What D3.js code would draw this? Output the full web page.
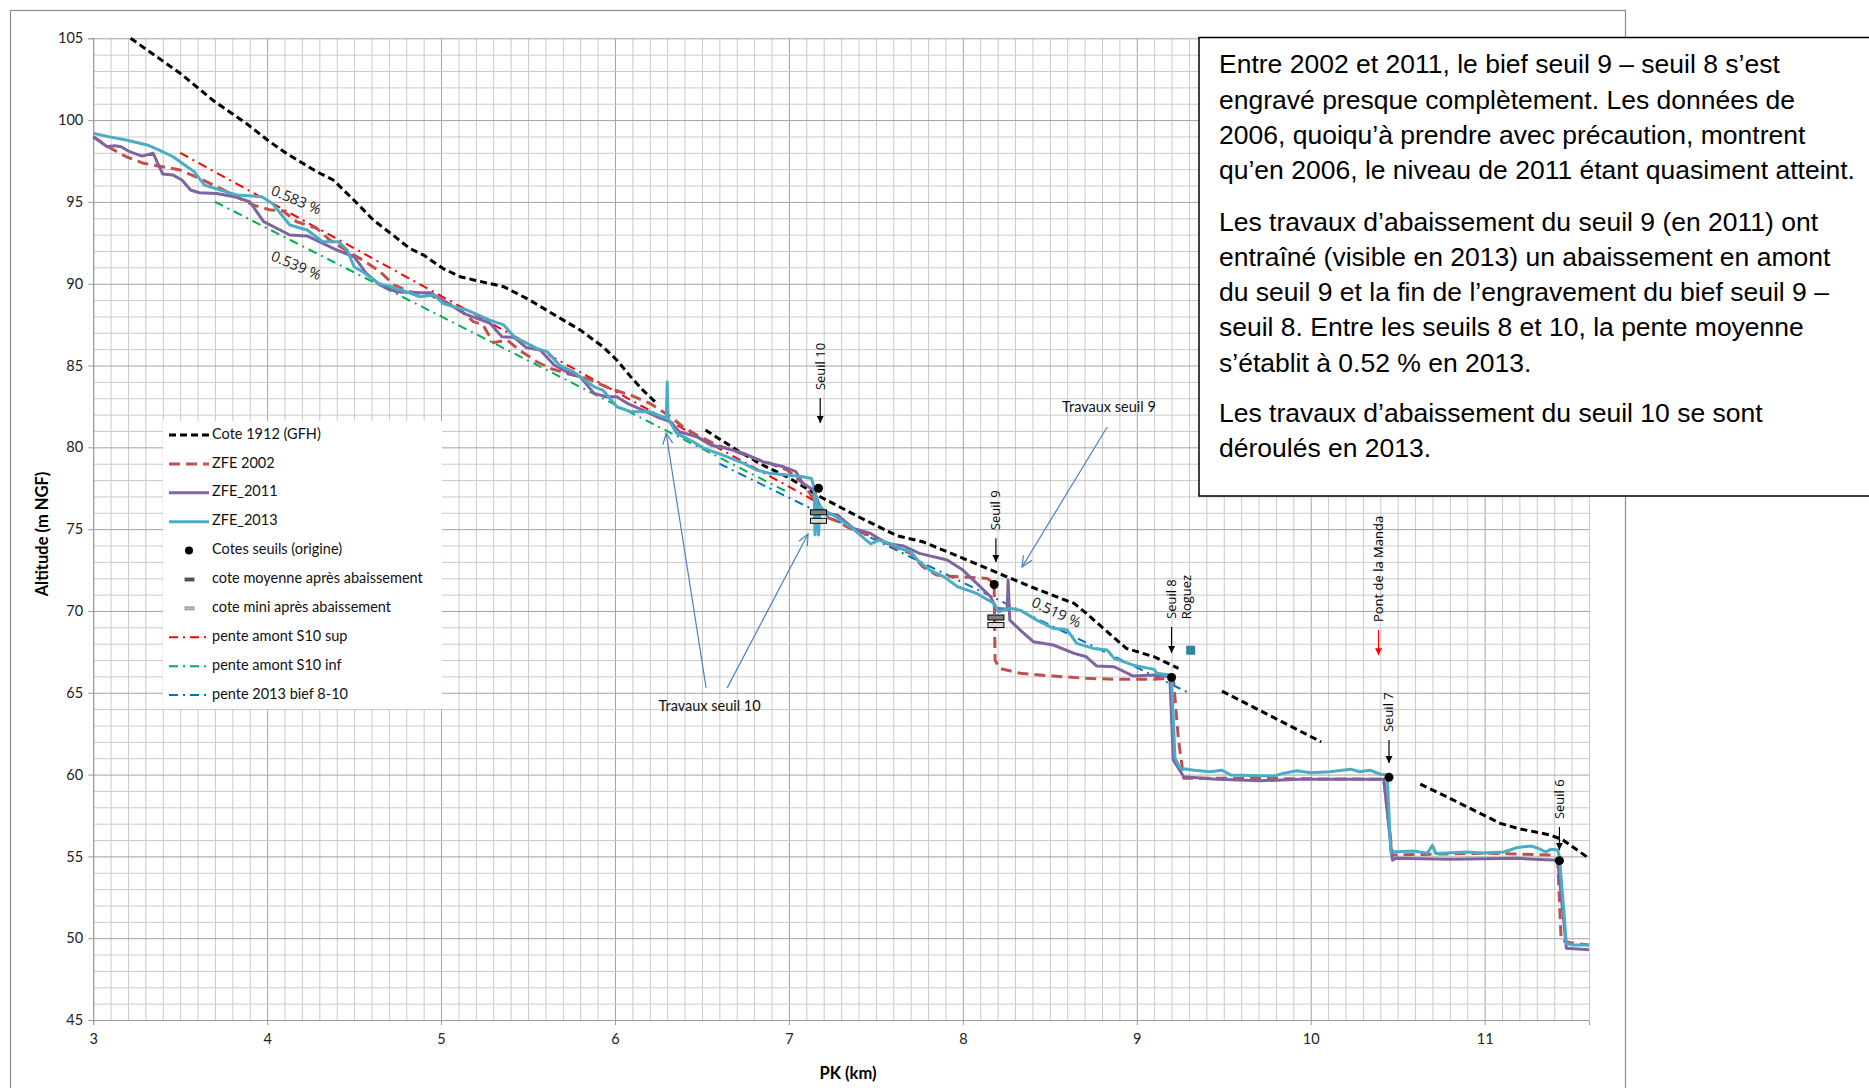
<!DOCTYPE html>
<html>
<head>
<meta charset="utf-8">
<script src="https://cdn.jsdelivr.net/npm/d3@7"></script>
<style>
  body { margin: 0; background: #fff; }
  svg { display: block; }
</style>
</head>
<body>
<svg id="chart" width="1869" height="1088"></svg>
<script>
// ---- Long profile data: PK (km) vs altitude (m NGF) ----
const pkTicks = [3, 4, 5, 6, 7, 8, 9, 10, 11];
const altTicks = [45, 50, 55, 60, 65, 70, 75, 80, 85, 90, 95, 100, 105];

// Cote 1912 (GFH), null marks a gap in the survey
const cote1912 = [
  [3.215,105],[3.5,102.86],[3.69,101.2],[3.88,99.8],[4.0,98.8],[4.11,97.97],[4.285,96.85],[4.38,96.34],
  [4.5,95.1],[4.61,93.9],[4.71,93.08],[4.82,92.16],[4.9,91.75],[5.01,90.94],[5.11,90.43],[5.2,90.2],
  [5.36,89.82],[5.51,89.0],[5.67,87.98],[5.8,87.17],[5.93,86.15],[6.01,85.34],[6.09,84.32],[6.16,83.5],
  [6.23,82.79],null,
  [6.52,81.06],[6.7,79.84],[6.83,79.02],[6.99,78.2],[7.18,76.98],[7.4,75.76],[7.62,74.6],[7.77,74.23],
  [7.98,73.31],[8.25,72.1],[8.44,71.27],[8.64,70.46],[8.71,69.85],[8.94,67.71],[9.1,67.2],[9.24,66.49],null,
  [9.49,65.1],[10.06,62.0],null,
  [10.63,59.42],[10.8,58.55],[10.955,57.73],[11.09,57.02],[11.19,56.71],[11.38,56.3],[11.45,56.0],[11.6,54.88]
];

const zfe2002 = [
  [3.0,98.99],[3.10,98.28],[3.19,97.76],[3.29,97.36],[3.40,97.15],[3.50,96.95],[3.61,96.44],[3.75,95.73],
  [3.825,95.32],[3.92,94.81],[4.02,94.5],[4.09,94.46],[4.17,93.79],[4.285,93.39],[4.36,92.67],[4.48,91.86],
  [4.55,91.45],[4.65,90.73],[4.73,89.92],[4.82,89.51],[4.94,89.31],[5.01,88.9],[5.09,88.6],[5.185,87.68],
  [5.24,87.5],[5.30,86.4],[5.38,86.56],[5.45,85.95],[5.55,85.23],[5.63,84.82],[5.72,84.52],[5.84,84.21],
  [5.97,83.6],[6.09,83.19],[6.20,82.69],[6.32,81.87],[6.39,81.26],[6.47,80.75],[6.585,80.14],[6.70,79.73],
  [6.80,79.33],[6.89,79.02],[6.99,78.61],[7.08,77.8],[7.16,76.6],[7.2,75.8],[7.26,75.56],[7.37,74.95],
  [7.49,74.54],[7.60,73.93],[7.70,73.52],[7.77,72.7],[7.85,72.19],[7.985,72.09],[8.14,71.99],[8.18,71.69],
  [8.185,67.0],[8.21,66.49],[8.33,66.19],[8.52,66.02],[8.71,65.88],[8.90,65.82],[9.10,65.82],[9.17,65.88],
  [9.21,65.88],[9.24,62.11],[9.27,59.77],[9.55,59.77],[10.0,59.74],[10.42,59.71],[10.47,55.08],[11.0,55.2],
  [11.38,55.08],[11.42,54.77],[11.44,49.89],[11.49,49.72],[11.6,49.58]
];

const zfe2011 = [
  [3.0,98.99],[3.08,98.37],[3.125,98.43],[3.16,98.37],[3.21,98.07],[3.28,97.8],[3.345,97.97],[3.40,96.7],
  [3.46,96.64],[3.51,96.34],[3.56,95.73],[3.61,95.56],[3.71,95.52],[3.81,95.32],[3.90,95.01],[3.98,93.79],
  [4.055,93.39],[4.13,92.98],[4.23,92.92],[4.32,92.47],[4.40,92.06],[4.50,91.65],[4.57,90.63],[4.65,89.92],
  [4.745,89.51],[4.84,89.45],[4.94,89.45],[5.01,89.0],[5.13,88.19],[5.205,87.88],[5.28,87.6],[5.35,86.76],
  [5.42,86.72],[5.49,86.1],[5.57,85.95],[5.65,85.03],[5.72,84.62],[5.80,84.31],[5.88,83.3],[5.95,83.09],
  [6.01,83.09],[6.07,82.69],[6.16,82.28],[6.24,81.87],[6.32,81.56],[6.37,80.95],[6.47,80.65],[6.55,80.14],
  [6.64,79.94],[6.74,79.63],[6.85,79.12],[6.97,78.81],[7.04,78.51],[7.08,77.8],[7.14,77.39],[7.18,76.37],
  [7.20,75.97],[7.28,75.86],[7.37,75.05],[7.47,74.74],[7.56,74.13],[7.66,73.97],[7.75,73.52],[7.91,73.11],
  [8.00,72.5],[8.08,71.69],[8.16,70.87],[8.19,70.16],[8.255,70.1],[8.26,71.89],[8.27,69.44],[8.33,68.83],
  [8.405,68.12],[8.52,67.92],[8.64,67.41],[8.71,67.2],[8.77,66.63],[8.87,66.59],[8.98,66.02],[9.10,66.08],
  [9.19,65.98],[9.21,60.89],[9.27,59.87],[9.46,59.71],[9.71,59.62],[9.94,59.71],[10.42,59.71],[10.47,54.77],
  [10.49,54.88],[10.80,54.82],[11.19,54.88],[11.42,54.77],[11.47,49.38],[11.6,49.3]
];

const zfe2013 = [
  [3.0,99.2],[3.087,98.99],[3.19,98.78],[3.31,98.48],[3.38,98.17],[3.46,97.76],[3.54,97.15],[3.58,96.85],
  [3.64,96.03],[3.73,95.73],[3.825,95.42],[3.97,95.32],[4.03,94.91],[4.13,93.59],[4.23,93.28],[4.32,92.57],
  [4.41,92.57],[4.46,92.06],[4.5,91.04],[4.55,90.73],[4.64,90.02],[4.71,89.82],[4.8,89.51],[4.88,89.2],
  [4.96,89.31],[5.01,88.8],[5.07,88.6],[5.15,88.39],[5.28,87.78],[5.36,87.48],[5.42,86.76],[5.55,86.05],
  [5.61,85.85],[5.68,85.03],[5.76,84.62],[5.88,83.7],[5.93,83.5],[6.01,82.48],[6.09,82.18],[6.2,82.18],
  [6.295,81.77],[6.30,84.0],[6.305,81.77],[6.355,80.85],[6.45,80.34],[6.51,79.94],[6.62,79.53],[6.74,79.02],
  [6.815,78.61],[6.89,78.41],[6.99,78.31],[7.08,78.2],[7.13,78.1],[7.145,77.5],[7.15,74.64],[7.16,77.0],
  [7.17,74.64],[7.18,76.4],[7.20,76.17],[7.27,75.76],[7.37,75.0],[7.47,74.1],[7.52,74.33],[7.58,74.13],
  [7.64,73.82],[7.70,73.62],[7.74,73.11],[7.81,72.5],[7.89,72.1],[7.97,71.48],[8.08,71.07],[8.18,70.46],
  [8.205,69.95],[8.27,70.16],[8.33,70.05],[8.425,69.44],[8.52,68.94],[8.60,68.83],[8.655,68.02],[8.75,67.71],
  [8.83,67.61],[8.87,67.1],[8.98,66.69],[9.10,66.43],[9.115,66.19],[9.19,66.08],[9.20,65.78],[9.22,61.0],
  [9.25,60.38],[9.33,60.27],[9.42,60.17],[9.49,60.27],[9.54,59.97],[9.79,59.91],[9.84,60.07],[9.92,60.23],
  [10.0,60.11],[10.11,60.17],[10.23,60.33],[10.28,60.17],[10.34,60.27],[10.40,60.02],[10.44,59.97],[10.46,55.27],
  [10.59,55.33],[10.67,55.2],[10.70,55.67],[10.72,55.17],[10.90,55.27],[10.99,55.2],[11.11,55.27],[11.19,55.55],
  [11.27,55.63],[11.31,55.48],[11.35,55.27],[11.38,55.43],[11.42,55.39],[11.43,54.98],[11.47,49.68],[11.51,49.58],
  [11.6,49.58]
];

// Slope lines (two end points each)
const penteS10sup = [[3.5, 98.0], [7.15, 76.72]];
const penteS10inf = [[3.7, 95.01], [7.0, 77.22]];
const pente2013bief = [[6.6, 79.0], [9.3, 64.99]];

// Weirs: original crest level, mean and minimum level after lowering
const cotesSeuils = [[7.17, 77.5], [8.18, 71.62], [9.20, 65.94], [10.45, 59.83], [11.43, 54.74]];
const coteMoyenne = [[7.17, 76.03], [8.19, 69.6]];
const coteMini = [[7.17, 75.51], [8.19, 69.14]];
const roguez = [[9.31, 67.6]];

// Vertical labels with downward arrows: [text, pk, arrow top alt, arrow tip alt, colour]
const weirLabels = [
  ["Seuil 10", 7.18, 83.01, 81.49, "#000"],
  ["Seuil 9", 8.19, 74.45, 72.99, "#000"],
  ["Seuil 8", 9.20, 69.02, 67.43, "#000"],
  ["Pont de la Manda", 10.39, 68.83, 67.30, "#ff0000"],
  ["Seuil 7", 10.45, 62.11, 60.70, "#000"],
  ["Seuil 6", 11.43, 56.79, 55.39, "#000"]
];
const slopeLabels = [["0.583 %", 4.165, 95.05, 23], ["0.539 %", 4.165, 91.05, 23], ["0.519 %", 8.535, 69.85, 25]];

const noteLines = [
  ["Entre 2002 et 2011, le bief seuil 9 – seuil 8 s’est",
   "engravé presque complètement. Les données de",
   "2006, quoiqu’à prendre avec précaution, montrent",
   "qu’en 2006, le niveau de 2011 étant quasiment atteint."],
  ["Les travaux d’abaissement du seuil 9 (en 2011) ont",
   "entraîné (visible en 2013) un abaissement en amont",
   "du seuil 9 et la fin de l’engravement du bief seuil 9 –",
   "seuil 8. Entre les seuils 8 et 10, la pente moyenne",
   "s’établit à 0.52 % en 2013."],
  ["Les travaux d’abaissement du seuil 10 se sont",
   "déroulés en 2013."]
];

// ---- Layout ----
const svg = d3.select("#chart");
const plot = { left: 93.2, right: 1589, top: 38.3, bottom: 1020 };
const x = d3.scaleLinear().domain([3, 11.6]).range([plot.left, plot.right]);
const y = d3.scaleLinear().domain([45, 105]).range([plot.bottom, plot.top]);
const fontUI = "Lato, 'Open Sans', sans-serif";
const fontLbl = "'Open Sans', 'DejaVu Sans', sans-serif";

// Outer chart frame
svg.append("rect").attr("x", 10.5).attr("y", 10.5).attr("width", 1615).attr("height", 1100)
  .attr("fill", "#fff").attr("stroke", "#8c8c8c").attr("stroke-width", 1.2);

// Grid: minor every 0.1 km / 1 m, major every km / 5 m
const minorX = d3.range(30, 117).map(d => d / 10);
const minorY = d3.range(45, 106);
const grid = svg.append("g");
grid.append("g").attr("transform", `translate(0,${plot.bottom})`)
  .call(d3.axisBottom(x).tickValues(minorX).tickSize(-(plot.bottom - plot.top)).tickFormat(""))
  .call(g => g.select(".domain").remove())
  .call(g => g.selectAll("line").attr("stroke", d => Math.abs(d - Math.round(d)) < 1e-6 ? "#a3a3a3" : "#cacaca"));
grid.append("g").attr("transform", `translate(${plot.left},0)`)
  .call(d3.axisLeft(y).tickValues(minorY).tickSize(-(plot.right - plot.left)).tickFormat(""))
  .call(g => g.select(".domain").remove())
  .call(g => g.selectAll("line").attr("stroke", d => d % 5 === 0 ? "#a3a3a3" : "#cacaca"));

// Axes
const xAxis = svg.append("g").attr("transform", `translate(0,${plot.bottom})`)
  .call(d3.axisBottom(x).tickValues(pkTicks).tickSize(5).tickPadding(9).tickFormat(d3.format("d")));
const yAxis = svg.append("g").attr("transform", `translate(${plot.left},0)`)
  .call(d3.axisLeft(y).tickValues(altTicks).tickSize(5).tickPadding(5).tickFormat(d3.format("d")));
[xAxis, yAxis].forEach(a => {
  a.select(".domain").attr("stroke", "#9a9a9a");
  a.selectAll(".tick line").attr("stroke", "#9a9a9a");
  a.selectAll("text").attr("font-family", fontUI).attr("font-size", 14.5).attr("fill", "#222");
});

svg.append("text").attr("x", 848).attr("y", 1079).attr("text-anchor", "middle")
  .attr("font-family", fontUI).attr("font-weight", "bold").attr("font-size", 16.5).text("PK (km)");
svg.append("text").attr("transform", "translate(48,534) rotate(-90)").attr("text-anchor", "middle")
  .attr("font-family", fontUI).attr("font-weight", "bold").attr("font-size", 16.5).text("Altitude (m NGF)");

// Legend box (drawn before the series so the lines cross nothing inside it)
const legend = svg.append("g");
legend.append("rect").attr("x", 163).attr("y", 421).attr("width", 279).attr("height", 288).attr("fill", "#fff");

// ---- Series ----
const line = d3.line().defined(d => d !== null).x(d => x(d[0])).y(d => y(d[1]));
const series = svg.append("g");

const styles = {
  black: { stroke: "#000", width: 3, dash: "7,4" },
  z2002: { stroke: "#c0504d", width: 3, dash: "11,6" },
  z2011: { stroke: "#8064a2", width: 3, dash: null },
  z2013: { stroke: "#4bacc6", width: 3, dash: null },
  sup: { stroke: "#ff0000", width: 2, dash: "9,5,2,5" },
  inf: { stroke: "#00b050", width: 2, dash: "9,5,2,5" },
  bief: { stroke: "#0070c0", width: 2, dash: "9,5,2,5" }
};
function drawLine(data, s) {
  series.append("path").datum(data).attr("d", line)
    .attr("fill", "none").attr("stroke", s.stroke).attr("stroke-width", s.width)
    .attr("stroke-dasharray", s.dash).attr("stroke-linejoin", "round");
}
drawLine(penteS10sup, styles.sup);
drawLine(penteS10inf, styles.inf);
drawLine(pente2013bief, styles.bief);
drawLine(cote1912, styles.black);
drawLine(zfe2002, styles.z2002);
drawLine(zfe2011, styles.z2011);
drawLine(zfe2013, styles.z2013);

// Weir markers
series.selectAll(".moy").data(coteMoyenne).join("rect")
  .attr("x", d => x(d[0]) - 8).attr("y", d => y(d[1]) - 2.5).attr("width", 16).attr("height", 5)
  .attr("fill", "#7f7f7f").attr("stroke", "#000").attr("stroke-width", 1);
series.selectAll(".mini").data(coteMini).join("rect")
  .attr("x", d => x(d[0]) - 8).attr("y", d => y(d[1]) - 2.5).attr("width", 16).attr("height", 5)
  .attr("fill", "#d9d9d9").attr("stroke", "#000").attr("stroke-width", 1);
series.selectAll(".seuil").data(cotesSeuils).join("circle")
  .attr("cx", d => x(d[0])).attr("cy", d => y(d[1])).attr("r", 4.5).attr("fill", "#000");
series.selectAll(".roguez").data(roguez).join("rect")
  .attr("x", d => x(d[0]) - 4.5).attr("y", d => y(d[1]) - 4.5).attr("width", 9).attr("height", 9)
  .attr("fill", "#31859c");

// ---- Annotations ----
const ann = svg.append("g");
const defs = svg.append("defs");
["#000", "#ff0000"].forEach((c, i) => {
  defs.append("marker").attr("id", "tip" + i).attr("viewBox", "0 0 10 10").attr("refX", 10).attr("refY", 5)
    .attr("markerWidth", 7).attr("markerHeight", 9).attr("markerUnits", "userSpaceOnUse").attr("orient", "auto")
    .append("path").attr("d", "M0,0 L10,5 L0,10 Z").attr("fill", c);
});
defs.append("marker").attr("id", "openTip").attr("viewBox", "0 0 12 12").attr("refX", 11).attr("refY", 6)
  .attr("markerWidth", 12).attr("markerHeight", 12).attr("markerUnits", "userSpaceOnUse").attr("orient", "auto")
  .append("path").attr("d", "M0,1 L11,6 L0,11").attr("fill", "none").attr("stroke", "#4f81bd").attr("stroke-width", 1.2);

weirLabels.forEach(([t, pk, top, tip, c]) => {
  const px = x(pk);
  ann.append("line").attr("x1", px).attr("x2", px).attr("y1", y(top)).attr("y2", y(tip))
    .attr("stroke", c).attr("stroke-width", 1.2).attr("marker-end", `url(#tip${c === "#000" ? 0 : 1})`);
  ann.append("text").attr("transform", `translate(${px + 4.5},${y(top) - 8}) rotate(-90)`)
    .attr("font-family", fontLbl).attr("font-size", 13).attr("fill", "#000").text(t);
});
ann.append("text").attr("transform", `translate(${x(roguez[0][0]) + 0.5},${y(69.5)}) rotate(-90)`)
  .attr("font-family", fontLbl).attr("font-size", 13).attr("fill", "#000").text("Roguez");

slopeLabels.forEach(([t, pk, alt, ang]) => {
  ann.append("text").attr("transform", `translate(${x(pk)},${y(alt)}) rotate(${ang})`)
    .attr("text-anchor", "middle").attr("dominant-baseline", "middle")
    .attr("font-family", fontLbl).attr("font-size", 14.5).attr("fill", "#222").text(t);
});

// "Travaux" call-outs
const callouts = [
  { text: "Travaux seuil 10", at: [6.544, 64.13], arrows: [[[6.524, 65.3], [6.294, 80.87]], [[6.645, 65.3], [7.11, 74.7]]] },
  { text: "Travaux seuil 9", at: [8.84, 82.4], arrows: [[[8.83, 81.24], [8.34, 72.68]]] }
];
callouts.forEach(c => {
  c.arrows.forEach(a => {
    ann.append("line").attr("x1", x(a[0][0])).attr("y1", y(a[0][1])).attr("x2", x(a[1][0])).attr("y2", y(a[1][1]))
      .attr("stroke", "#4f81bd").attr("stroke-width", 1.2).attr("marker-end", "url(#openTip)");
  });
  ann.append("text").attr("x", x(c.at[0])).attr("y", y(c.at[1])).attr("text-anchor", "middle")
    .attr("dominant-baseline", "middle").attr("font-family", fontUI).attr("font-size", 14.5).attr("fill", "#111").text(c.text);
});

// ---- Legend entries ----
const legendItems = [
  { label: "Cote 1912 (GFH)", kind: "line", s: styles.black },
  { label: "ZFE 2002", kind: "line", s: styles.z2002 },
  { label: "ZFE_2011", kind: "line", s: styles.z2011 },
  { label: "ZFE_2013", kind: "line", s: styles.z2013 },
  { label: "Cotes seuils (origine)", kind: "dot" },
  { label: "cote moyenne après abaissement", kind: "moy" },
  { label: "cote mini après abaissement", kind: "mini" },
  { label: "pente amont S10 sup", kind: "line", s: styles.sup },
  { label: "pente amont S10 inf", kind: "line", s: styles.inf },
  { label: "pente 2013 bief 8-10", kind: "line", s: styles.bief }
];
legendItems.forEach((it, i) => {
  const cy = 435 + i * 28.9;
  if (it.kind === "line") {
    legend.append("line").attr("x1", 169).attr("x2", 209).attr("y1", cy).attr("y2", cy)
      .attr("stroke", it.s.stroke).attr("stroke-width", it.s.width).attr("stroke-dasharray", it.s.dash);
  } else if (it.kind === "dot") {
    legend.append("circle").attr("cx", 189).attr("cy", cy).attr("r", 4).attr("fill", "#000");
  } else {
    legend.append("rect").attr("x", 185).attr("y", cy - 1.5).attr("width", 9).attr("height", 3)
      .attr("fill", it.kind === "moy" ? "#595959" : "#bfbfbf")
      .attr("stroke", it.kind === "moy" ? "#404040" : "#7f7f7f").attr("stroke-width", 0.8);
  }
  legend.append("text").attr("x", 212).attr("y", cy).attr("dominant-baseline", "middle")
    .attr("font-family", fontUI).attr("font-size", 14.5).attr("fill", "#111").text(it.label);
});

// ---- Comment box ----
const note = svg.append("g");
note.append("rect").attr("x", 1199).attr("y", 37.5).attr("width", 700).attr("height", 458.5)
  .attr("fill", "#fff").attr("stroke", "#000").attr("stroke-width", 1.5);
const paraStarts = [73.3, 230.5, 421.7];
noteLines.forEach((para, p) => {
  para.forEach((ln, i) => {
    note.append("text").attr("x", 1219).attr("y", paraStarts[p] + i * 35.3)
      .attr("font-family", "'Liberation Sans', Arial, sans-serif").attr("font-size", 26.5)
      .attr("fill", "#000").text(ln);
  });
});
</script>
</body>
</html>
